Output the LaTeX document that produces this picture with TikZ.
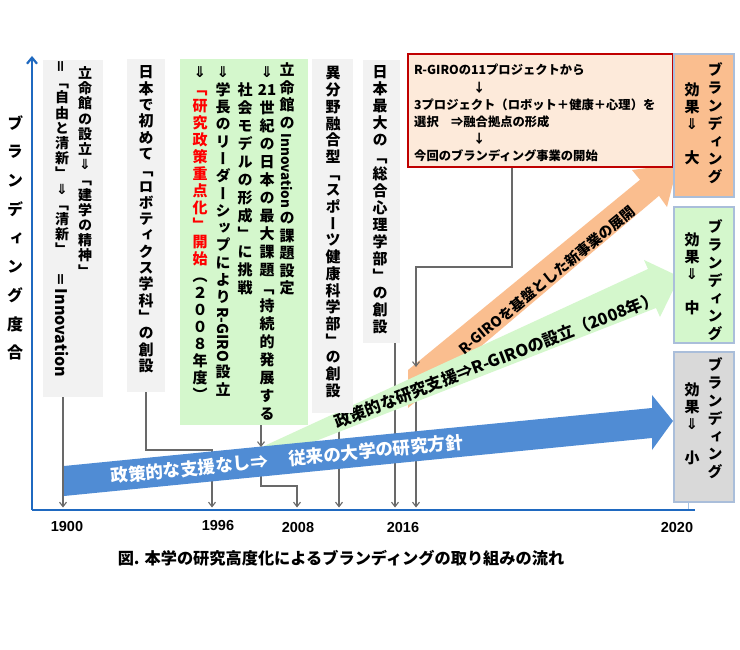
\documentclass[tikz,border=0pt]{standalone}
\usepackage{fontspec}
\usepackage{graphicx}
\usetikzlibrary{arrows.meta}
\setmainfont{Liberation Sans}
\newfontfamily\jpf{Noto Sans CJK JP}
\newfontfamily\tatef{Noto Sans CJK JP}[RawFeature=+vert]
\newfontfamily\symf{DejaVu Sans}
\definecolor{axisblue}{RGB}{31,105,192}
\definecolor{bandblue}{RGB}{80,140,212}
\definecolor{bandgreen}{RGB}{212,247,204}
\definecolor{bandorange}{RGB}{250,190,143}
\definecolor{boxgray}{RGB}{242,242,242}
\definecolor{peach}{RGB}{253,234,218}
\definecolor{darkred}{RGB}{192,0,0}
\definecolor{rgray}{RGB}{217,217,217}
\definecolor{rborder}{RGB}{170,190,218}
\definecolor{conngray}{RGB}{105,105,105}
\pgfdeclarelayer{bg}
\pgfdeclarelayer{back}
\pgfsetlayers{bg,back,main}
\newcommand\dA{{\symf\bfseries ⇓}}
\newcommand\rr{\color{red}}
\newcommand\tateitem[1]{\hbox to 1em{\vrule height .88em depth .12em width 0pt\hss#1\hss}}
\newcommand\rotL[1]{\raisebox{.82em}{\rotatebox{-90}{\jpf #1}}}
\newcommand\rotEq{\raisebox{-.1em}{\rotatebox{90}{\jpf ＝}}}
\newcommand\tcy[1]{{\jpf #1}}
\ExplSyntaxOn
\dim_new:N \l__tate_p_dim
\NewDocumentCommand \tate { O{1.1em} m }
 {
  \vbox
   {
    \dim_set:Nn \l__tate_p_dim {#1}
    \baselineskip=\l__tate_p_dim
    \lineskiplimit=0pt
    \lineskip=\dim_eval:n { \l__tate_p_dim - 1em }\relax
    \tl_map_inline:nn {#2} { \tateitem {##1} }
   }
 }
\ExplSyntaxOff
\tikzset{
  gbox/.style={fill=boxgray, inner sep=0pt},
  grbox/.style={fill=bandgreen, inner sep=0pt},
  redbox/.style={fill=peach, draw=darkred, line width=1.5pt, inner sep=0pt},
  rbox/.style={draw=rborder, line width=1.2pt, inner sep=0pt, minimum width=60pt},
  colA/.style={inner sep=0pt, anchor=north, font=\fontsize{14}{14}\tatef\bfseries},
  colB/.style={inner sep=0pt, anchor=north, font=\fontsize{15}{15}\tatef\bfseries},
  conn/.style={draw=conngray, line width=1.1pt, -{Straight Barb[length=4.5pt,width=7pt]}},
  yr/.style={inner sep=0pt, font=\fontsize{14.5}{14.5}\selectfont\bfseries},
}
\begin{document}
\begin{tikzpicture}[x=1pt,y=-1pt]
\useasboundingbox (0,0) rectangle (740,650);
\begin{pgfonlayer}{bg}
\fill[white] (0,0) rectangle (740,650);
\end{pgfonlayer}

% key coordinates
\coordinate (O) at (32,510);
\coordinate (ytop) at (32,56);
\coordinate (xend) at (695,510);
\coordinate (y1900) at (63,507.5);
\coordinate (k2) at (146,450);
\coordinate (y1996) at (212,507.5);
\coordinate (gstart) at (261,447);
\coordinate (k3) at (261,486);
\coordinate (y2008) at (297,507.5);
\coordinate (y2009) at (339,507.5);
\coordinate (y2016a) at (395,507.5);
\coordinate (k6) at (512,267);
\coordinate (ostart) at (416,367);
\coordinate (y2016b) at (416,507.5);

% bands
\fill[bandorange] (408,370) -- (640,179.8) -- (632,170) -- (678,164) -- (667,207) -- (659,195.8) -- (408,408) -- cycle;
\fill[bandgreen] (262,447) -- (648,269) -- (644,260) -- (679.6,276.8) -- (660,317) -- (656,308) -- (262,462) -- cycle;
\fill[bandblue] (64,466) -- (652,408) -- (652,395) -- (673,421) -- (652,450) -- (652,438) -- (64,496) -- cycle;

\node[rotate=39.4, inner sep=0pt, font=\fontsize{14.3}{14.3}\jpf\bfseries] (tor) at (547,280) {R-GIROを基盤とした新事業の展開};
\node[rotate=21.2, inner sep=0pt, font=\fontsize{16.4}{16.4}\jpf\bfseries] (tgr) at (496,360) {政策的な研究支援⇒R-GIROの設立（2008年）};
\node[rotate=5.6, inner sep=0pt, text=white, font=\fontsize{17.5}{17.5}\jpf\bfseries] (tbl) at (287,459) {政策的な支援なし⇒\hspace{1.2em}従来の大学の研究方針};

% box 1
\node[gbox, minimum width=60pt, minimum height=337pt] (b1) at (73,228.5) {};
\node[colA] (b1a) at (85,66) {\tate[15.2pt]{立命館の設立\dA 「建学の精神」}};
\node[colA] (b1b) at (62,59.6) {\tate[15.2pt]{\rotEq 「自由と清新」\dA 「清新」{}\rotEq{\rotL{\fontsize{16}{16}\selectfont Innovation}}}};

% box 2
\node[gbox, minimum width=38pt, minimum height=333pt] (b2) at (146,225.5) {};
\node[colB] (b2a) at (146,64.5) {\tate[16.3pt]{日本で初めて「ロボティクス学科」の創設}};

% green box
\node[grbox, minimum width=128pt, minimum height=366pt] (gb) at (244,242) {};
\node[colB] (g1) at (287,62.5) {\tate[17.5pt]{立命館の{\rotL{\fontsize{13.5}{13.5}\selectfont Innovation}}の課題設定}};
\node[colB] (g2) at (267,64.5) {\tate[18pt]{\dA{\tcy{21}}世紀の日本の最大課題「持続的発展する}};
\node[colB] (g3) at (245,64.5) {\tate[18pt]{{}社会モデルの形成」に挑戦}};
\node[colB] (g4) at (223,64.5) {\tate[17.3pt]{\dA 学長のリーダーシップにより{\rotL{R-GIRO}}設立}};
\node[colB] (g5) at (200,64.5) {\tate[17pt]{\dA{\rr 「}{\rr 研}{\rr 究}{\rr 政}{\rr 策}{\rr 重}{\rr 点}{\rr 化}{\rr 」}{\rr 開}{\rr 始}（２００８年度）}};

% sports
\node[gbox, minimum width=41pt, minimum height=354pt] (sb) at (332.5,236) {};
\node[colB] (s1) at (333,65.5) {\tate[16.7pt]{異分野融合型「スポーツ健康科学部」の創設}};
% psychology
\node[gbox, minimum width=37pt, minimum height=283pt] (pb) at (381.5,201.5) {};
\node[colB] (p1) at (380,64.5) {\tate[17pt]{日本最大の「総合心理学部」の創設}};

% red box
\node[redbox, minimum width=265pt, minimum height=113pt] (rb) at (540.5,110.5) {};
\node[anchor=north west, inner sep=0pt, align=left, font=\fontsize{12.3}{17.2}\jpf\bfseries] (rbt) at (414,64) {R-GIROの11プロジェクトから\\
\hspace*{4.8em}↓\\
3プロジェクト（ロボット＋健康＋心理）を\\
選択\hspace{1em}⇒融合拠点の形成\\
\hspace*{4.8em}↓\\
今回のブランディング事業の開始};

% right boxes
\node[rbox, fill=bandorange, minimum height=143pt] (ro) at (704,125.5) {};
\node[colB] (ro1) at (715,62.5) {\tate[17.8pt]{ブランディング}};
\node[colB] (ro2) at (692,82.5) {\tate[17pt]{効果\dA{}大}};
\node[rbox, fill=bandgreen, minimum height=136pt] (rg) at (704,275) {};
\node[colB] (rg1) at (715,219.5) {\tate[17.8pt]{ブランディング}};
\node[colB] (rg2) at (692,232.5) {\tate[17pt]{効果\dA{}中}};
\node[rbox, fill=rgray, minimum height=150pt] (ry) at (704,427) {};
\node[colB] (ry1) at (715,357.5) {\tate[17.8pt]{ブランディング}};
\node[colB] (ry2) at (692,382.5) {\tate[17pt]{効果\dA{}小}};

% y label
\node[anchor=north, inner sep=0pt, font=\fontsize{16}{16}\tatef\bfseries] (ylab) at (15,115) {\tate[28.7pt]{ブランディング度合}};

% connectors behind bands
\begin{pgfonlayer}{back}
\draw[conn] (b1.south -| y1900) -- (y1900);
\draw[conn] (b2.south) -- (k2) -| (y1996);
\draw[conn] (gstart) -- (k3) -| (y2008);
\draw[conn] (sb.south -| y2009) -- (y2009);
\draw[conn] (pb.south -| y2016a) -- (y2016a);
\draw[conn] (ostart) -- (y2016b);
\end{pgfonlayer}
\draw[conn] (gb.south -| gstart) -- (gstart);
\draw[conn] (rb.south -| k6) -- (k6) -| (ostart);

% axes
\draw[axisblue, line width=2.2pt, -{Straight Barb[length=6pt,width=10pt]}] (O) -- (ytop);
\draw[axisblue, line width=2.8pt] (O) -- (xend);
\coordinate (t2020a) at (688,503);
\coordinate (t2020b) at (688,509);
\draw[axisblue!40, line width=0.6pt] (t2020a) -- (t2020b);

% year labels
\node[yr] (l1900) at (67,527) {1900};
\node[yr] (l1996) at (218,526) {1996};
\node[yr] (l2008) at (298,528) {2008};
\node[yr] (l2016) at (403,528) {2016};
\node[yr] (l2020) at (677,528) {2020};

% caption
\node[inner sep=0pt, font=\fontsize{16.2}{16.2}\jpf\bfseries] (cap) at (341,558) {図. 本学の研究高度化によるブランディングの取り組みの流れ};
\end{tikzpicture}
\end{document}
